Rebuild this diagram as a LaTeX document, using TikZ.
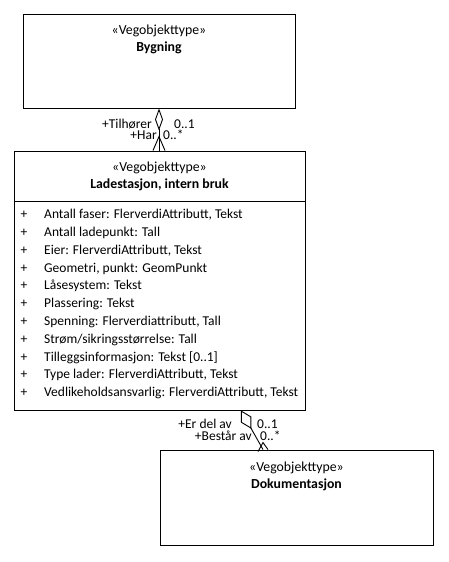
\documentclass[tikz,border=0pt]{standalone}
\usepackage{fontspec}
\setmainfont{Carlito}
\usetikzlibrary{positioning,arrows.meta}

\tikzset{
  umlbox/.style={draw, line width=0.9pt, inner sep=0pt},
  umlline/.style={line width=0.9pt},
  tittel/.style={align=center, inner sep=0pt, font=\fontsize{13.8}{17.5}\selectfont},
  attr/.style={inner sep=0pt, anchor=west},
  rolle/.style={inner sep=0pt}
}

\begin{document}
\begin{tikzpicture}[x=1pt, y=-1pt, font=\fontsize{13.5}{17.8}\selectfont, line join=miter]
            \useasboundingbox (0,0) rectangle (449,562);
            % klassene
            \node[umlbox, minimum width=272, minimum height=94] (bygning) at (159,61) {};
            \node[tittel, below=11pt of bygning.north] (bygningtittel) {«Vegobjekttype»\\\textbf{Bygning}};
            \node[umlbox, minimum width=291, minimum height=259] (lade) at (159.5,280.5) {};
            \node[tittel, below=11pt of lade.north] (ladetittel) {«Vegobjekttype»\\\textbf{Ladestasjon, intern bruk}};
            \draw[umlline] (lade.north west) ++(0,51) -- ++(291,0);
            \node[umlbox, minimum width=273, minimum height=95] (dok) at (296.5,497.5) {};
            \node[tittel, below=12pt of dok.north] (doktittel) {«Vegobjekttype»\\\textbf{Dokumentasjon}};
            % attributter
            \foreach \tekst [count=\i] in {{Antall faser: FlerverdiAttributt, Tekst}, {Antall ladepunkt: Tall},
                {Eier: FlerverdiAttributt, Tekst}, {Geometri, punkt: GeomPunkt}, {Låsesystem: Tekst},
                {Plassering: Tekst}, {Spenning: Flerverdiattributt, Tall}, {Strøm/sikringsstørrelse: Tall},
                {Tilleggsinformasjon: Tekst [0..1]}, {Type lader: FlerverdiAttributt, Tekst},
                {Vedlikeholdsansvarlig: FlerverdiAttributt, Tekst}}
            {
                \node[inner sep=0pt] (pluss\i) at (24,197.2+17.8*\i) {+};
                \node[attr] (attr\i) at (44,197.2+17.8*\i) {\tekst};
            }
            % assosiasjoner
            \draw[umlline, {Diamond[open,length=22pt,width=8pt]}-]
                (bygning.south) -- (bygning.south |- lade.north);
            \draw[umlline] (bygning.south |- lade.north) ++(-6,0) -- ++(6,-14) -- ++(6,14);
            \node[rolle, anchor=east] (tilhorer) at (152,124) {+Tilhører};
            \node[rolle, anchor=west] (mult1) at (174,124) {0..1};
            \node[rolle, anchor=east] (har) at (157,135) {+Har};
            \node[rolle, anchor=west] (mult2) at (163,135) {0..*};
            \coordinate (fra) at ([xshift=81.5]lade.south);
            \coordinate (til) at ([xshift=-33.5]dok.north);
            \draw[umlline, {Diamond[open,length=21pt,width=12pt]}-] (fra) -- (til);
            \draw[umlline] (til) ++(-5,2) -- ++(5,-9) -- ++(5,7);
            \node[rolle, anchor=east] (erdelav) at (232,424) {+Er del av};
            \node[rolle, anchor=west] (mult3) at (257,424) {0..1};
            \node[rolle, anchor=east] (bestar) at (252,436) {+Består av};
            \node[rolle, anchor=west] (mult4) at (260,436) {0..*};
\end{tikzpicture}
\end{document}
